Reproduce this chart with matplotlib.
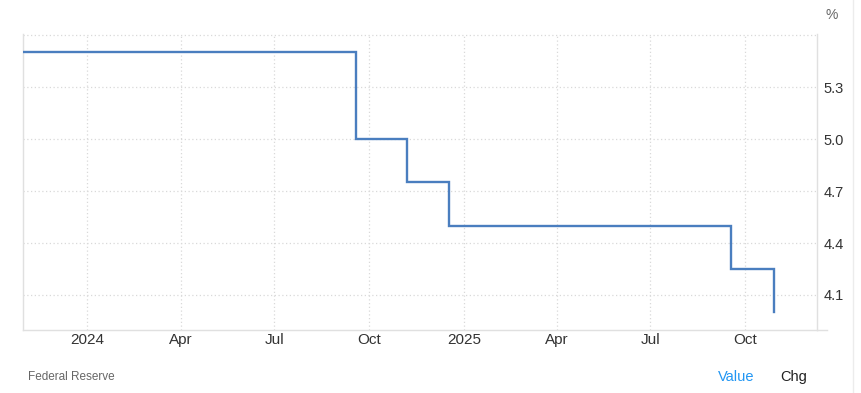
import matplotlib
matplotlib.use("Agg")
import matplotlib.pyplot as plt
import matplotlib.dates as mdates
from matplotlib.lines import Line2D
import numpy as np
import datetime as dt

plt.rcParams['font.family'] = ['Liberation Sans', 'DejaVu Sans']

# Data: Fed funds rate (step changes)
dates = ["2023-10-31", "2024-09-18", "2024-11-07", "2024-12-18", "2025-09-17", "2025-10-29"]
values = [5.5, 5.0, 4.75, 4.5, 4.25, 4.0]

x_tick_dates = ["2024-01-01", "2024-04-01", "2024-07-01", "2024-10-01",
                "2025-01-01", "2025-04-01", "2025-07-01", "2025-10-01"]
x_tick_labels = ["2024", "Apr", "Jul", "Oct", "2025", "Apr", "Jul", "Oct"]
y_ticks = [4.1, 4.4, 4.7, 5.0, 5.3, 5.6]
y_tick_labels = ["4.1", "4.4", "4.7", "5.0", "5.3", ""]

x_range = ["2023-10-31", "2025-12-10"]
y_range = [3.898, 5.606]

W, H = 861, 393
fig = plt.figure(figsize=(W / 100, H / 100), dpi=100)
L, R, T, B = 23.3, 817, 34, 330
ax = fig.add_axes([L / W, (H - B) / H, (R - L) / W, (B - T) / H])

d = [np.datetime64(s) for s in dates]
ax.plot(d, values, drawstyle="steps-post", color="#4a7ebf", lw=1.7,
        solid_joinstyle="miter", zorder=3)

ax.set_xlim(np.datetime64(x_range[0]), np.datetime64(x_range[1]))
ax.set_ylim(*y_range)

ax.set_xticks([np.datetime64(s) for s in x_tick_dates])
ax.set_xticklabels(x_tick_labels)
ax.set_yticks(y_ticks)
ax.set_yticklabels(y_tick_labels)
ax.yaxis.tick_right()

ax.tick_params(axis="x", length=0, pad=2, labelsize=11, labelcolor="#333333")
ax.tick_params(axis="y", length=0, pad=4.5, labelsize=10.5, labelcolor="#333333")

ax.grid(True, color="#d9d9d9", linestyle=(0, (1, 2)), lw=0.9)
ax.set_axisbelow(True)

for s in ["top"]:
    ax.spines[s].set_visible(False)
for s in ["left", "right", "bottom"]:
    ax.spines[s].set_color("#e0e0e0")
    ax.spines[s].set_linewidth(1.0)

# extend bottom axis line a bit to the right
fig.add_artist(Line2D([R / W, 827 / W], [(H - B) / H, (H - B) / H],
                      color="#e0e0e0", lw=1.0))
# page border on the right
fig.add_artist(Line2D([853 / W, 853 / W], [0, 1], color="#ececec", lw=1.0))

fig.text(826 / W, 1 - 15 / H, "%", fontsize=10, color="#666666",
         ha="left", va="center")
fig.text(28 / W, 1 - 377 / H, "Federal Reserve", fontsize=8.5, color="#666666",
         ha="left", va="center")
fig.text(718 / W, 1 - 377 / H, "Value", fontsize=10.5, color="#2196f3",
         ha="left", va="center")
fig.text(780 / W, 1 - 377 / H, "Chg", fontsize=10.5, color="#222222",
         ha="left", va="center")

fig.savefig("out.png", dpi=100)
